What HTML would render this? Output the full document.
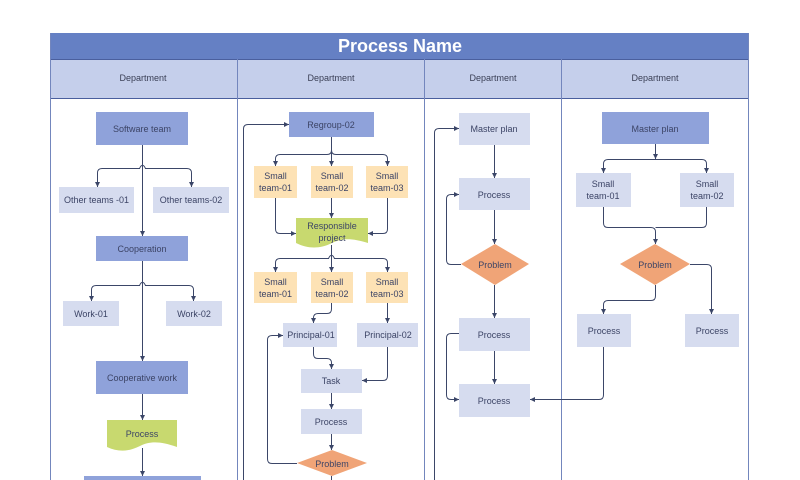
<!DOCTYPE html>
<html>
<head>
<meta charset="utf-8">
<style>
html,body{margin:0;padding:0;background:#ffffff;}
svg{display:block;}
text{font-family:"Liberation Sans",sans-serif;}
</style>
</head>
<body>
<svg width="800" height="480" viewBox="0 0 800 480" xmlns="http://www.w3.org/2000/svg">
<defs>
<marker id="a" markerWidth="6" markerHeight="6" refX="5" refY="3" orient="auto" markerUnits="userSpaceOnUse">
<path d="M0,0.5 L5,3 L0,5.5 Z" fill="#3b4668"/>
</marker>
</defs>
<rect x="0" y="0" width="800" height="480" fill="#ffffff"/>

<!-- frame -->
<rect x="50" y="33" width="699" height="26" fill="#6580c4"/>
<rect x="50" y="59" width="699" height="39" fill="#c5cfeb"/>
<text x="400" y="52" font-size="18" font-weight="bold" fill="#ffffff" text-anchor="middle">Process Name</text>
<g font-size="9" fill="#3a3f55" text-anchor="middle">
<text x="143" y="81">Department</text>
<text x="331" y="81">Department</text>
<text x="493" y="81">Department</text>
<text x="655" y="81">Department</text>
</g>
<g stroke="#4a5f9e" stroke-width="1" fill="none">
<line x1="50" y1="59.5" x2="749" y2="59.5"/>
<line x1="50" y1="98.5" x2="749" y2="98.5"/>
</g>
<g stroke="#7386bd" stroke-width="1" fill="none">
<line x1="50.5" y1="33" x2="50.5" y2="480"/>
<line x1="748.5" y1="33" x2="748.5" y2="480"/>
<line x1="237.5" y1="59" x2="237.5" y2="480"/>
<line x1="424.5" y1="59" x2="424.5" y2="480"/>
<line x1="561.5" y1="59" x2="561.5" y2="480"/>
</g>

<!-- shapes -->
<g>
<!-- col1 -->
<rect x="96" y="112" width="92" height="33" fill="#8fa2da"/>
<rect x="59" y="187" width="75" height="26" fill="#d6dcef"/>
<rect x="153" y="187" width="76" height="26" fill="#d6dcef"/>
<rect x="96" y="236" width="92" height="25" fill="#8fa2da"/>
<rect x="63" y="301" width="56" height="25" fill="#d6dcef"/>
<rect x="166" y="301" width="56" height="25" fill="#d6dcef"/>
<rect x="96" y="361" width="92" height="33" fill="#8fa2da"/>
<path d="M107,420 H177 V447 C160,441 150,441 140,446 C128,452 118,452 107,447 Z" fill="#c8d96f"/>
<rect x="84" y="476" width="117" height="10" fill="#8fa2da"/>

<!-- col2 -->
<rect x="289" y="112" width="85" height="25" fill="#8fa2da"/>
<rect x="254" y="166" width="43" height="32" fill="#fde2b5"/>
<rect x="311" y="166" width="42" height="32" fill="#fde2b5"/>
<rect x="366" y="166" width="42" height="32" fill="#fde2b5"/>
<path d="M296,218 H368 V243 C352,238 342,238 332,243 C320,249 308,249 296,243 Z" fill="#c8d96f"/>
<rect x="254" y="272" width="43" height="31" fill="#fde2b5"/>
<rect x="311" y="272" width="42" height="31" fill="#fde2b5"/>
<rect x="366" y="272" width="42" height="31" fill="#fde2b5"/>
<rect x="283" y="323" width="54" height="24" fill="#d6dcef"/>
<rect x="357" y="323" width="61" height="24" fill="#d6dcef"/>
<rect x="301" y="369" width="61" height="24" fill="#d6dcef"/>
<rect x="301" y="409" width="61" height="25" fill="#d6dcef"/>
<polygon points="297,463 332,450 367,463 332,476" fill="#f0a477"/>

<!-- col3 -->
<rect x="459" y="113" width="71" height="32" fill="#d6dcef"/>
<rect x="459" y="178" width="71" height="32" fill="#d6dcef"/>
<polygon points="461,264 495,244 529,264 495,285" fill="#f0a477"/>
<rect x="459" y="318" width="71" height="33" fill="#d6dcef"/>
<rect x="459" y="384" width="71" height="33" fill="#d6dcef"/>

<!-- col4 -->
<rect x="602" y="112" width="107" height="32" fill="#8fa2da"/>
<rect x="576" y="173" width="55" height="34" fill="#d6dcef"/>
<rect x="680" y="173" width="54" height="34" fill="#d6dcef"/>
<polygon points="620,264 655,244 690,264 655,285" fill="#f0a477"/>
<rect x="577" y="314" width="54" height="33" fill="#d6dcef"/>
<rect x="685" y="314" width="54" height="33" fill="#d6dcef"/>
</g>

<!-- connectors -->
<g stroke="#3b4668" stroke-width="1" fill="none">
<!-- col1 -->
<path d="M142.5,145 V236" marker-end="url(#a)"/>
<path d="M140,168.5 H102 Q97.5,168.5 97.5,173 V187" marker-end="url(#a)"/>
<path d="M145,168.5 H187 Q191.5,168.5 191.5,173 V187" marker-end="url(#a)"/>
<path d="M139.5,168.5 Q142.5,162 145.5,168.5"/>
<path d="M142.5,261 V361" marker-end="url(#a)"/>
<path d="M140,285.5 H96 Q91.5,285.5 91.5,290 V301" marker-end="url(#a)"/>
<path d="M145,285.5 H189 Q193.5,285.5 193.5,290 V301" marker-end="url(#a)"/>
<path d="M139.5,285.5 Q142.5,279 145.5,285.5"/>
<path d="M142.5,394 V420" marker-end="url(#a)"/>
<path d="M142.5,448 V476" marker-end="url(#a)"/>

<!-- col2 -->
<path d="M243.5,480 V129 Q243.5,124.5 248,124.5 H289" marker-end="url(#a)"/>
<path d="M331.5,137 V166" marker-end="url(#a)"/>
<path d="M331.5,150 Q331.5,154.5 327,154.5 H280 Q275.5,154.5 275.5,159 V166" marker-end="url(#a)"/>
<path d="M331.5,150 Q331.5,154.5 336,154.5 H383 Q387.5,154.5 387.5,159 V166" marker-end="url(#a)"/>
<path d="M275.5,198 V229 Q275.5,233.5 280,233.5 H296" marker-end="url(#a)"/>
<path d="M331.5,198 V218" marker-end="url(#a)"/>
<path d="M387.5,198 V229 Q387.5,233.5 383,233.5 H368" marker-end="url(#a)"/>
<path d="M331.5,245 V272" marker-end="url(#a)"/>
<path d="M329,258.5 H280 Q275.5,258.5 275.5,263 V272" marker-end="url(#a)"/>
<path d="M334,258.5 H383 Q387.5,258.5 387.5,263 V272" marker-end="url(#a)"/>
<path d="M328.5,258.5 Q331.5,252 334.5,258.5"/>
<path d="M331.5,303 V309 Q331.5,313.5 327,313.5 H318 Q313.5,313.5 313.5,318 V323" marker-end="url(#a)"/>
<path d="M387.5,303 V323" marker-end="url(#a)"/>
<path d="M313.5,347 V354 Q313.5,358.5 318,358.5 H327 Q331.5,358.5 331.5,363 V369" marker-end="url(#a)"/>
<path d="M387.5,347 V376 Q387.5,380.5 383,380.5 H362" marker-end="url(#a)"/>
<path d="M331.5,393 V409" marker-end="url(#a)"/>
<path d="M331.5,434 V450" marker-end="url(#a)"/>
<path d="M297,463.5 H272 Q267.5,463.5 267.5,459 V340 Q267.5,335.5 272,335.5 H283" marker-end="url(#a)"/>
<path d="M331.5,476 V480"/>

<!-- col3 -->
<path d="M434.5,480 V133 Q434.5,128.5 439,128.5 H459" marker-end="url(#a)"/>
<path d="M494.5,145 V178" marker-end="url(#a)"/>
<path d="M494.5,210 V244" marker-end="url(#a)"/>
<path d="M461,264.5 H451 Q446.5,264.5 446.5,260 V199 Q446.5,194.5 451,194.5 H459" marker-end="url(#a)"/>
<path d="M494.5,285 V318" marker-end="url(#a)"/>
<path d="M494.5,351 V384" marker-end="url(#a)"/>
<path d="M459,333.5 H451 Q446.5,333.5 446.5,338 V395 Q446.5,399.5 451,399.5 H459" marker-end="url(#a)"/>
<path d="M603.5,347 V395 Q603.5,399.5 599,399.5 H530" marker-end="url(#a)"/>

<!-- col4 -->
<path d="M655.5,144 V159" marker-end="url(#a)"/>
<path d="M655.5,159.5 H608 Q603.5,159.5 603.5,164 V173" marker-end="url(#a)"/>
<path d="M655.5,159.5 H702 Q706.5,159.5 706.5,164 V173" marker-end="url(#a)"/>
<path d="M603.5,207 V223 Q603.5,227.5 608,227.5 H651 Q655.5,227.5 655.5,232 V244" marker-end="url(#a)"/>
<path d="M706.5,207 V223 Q706.5,227.5 702,227.5 H655.5"/>
<path d="M690,264.5 H707 Q711.5,264.5 711.5,269 V314" marker-end="url(#a)"/>
<path d="M655.5,285 V296 Q655.5,300.5 651,300.5 H608 Q603.5,300.5 603.5,305 V314" marker-end="url(#a)"/>
</g>

<!-- labels -->
<g font-size="9" fill="#3c4466" text-anchor="middle">
<text x="142" y="132">Software team</text>
<text x="96.5" y="203">Other teams -01</text>
<text x="191" y="203">Other teams-02</text>
<text x="142" y="252">Cooperation</text>
<text x="91" y="317">Work-01</text>
<text x="194" y="317">Work-02</text>
<text x="142" y="381">Cooperative work</text>
<text x="142" y="437">Process</text>

<text x="331" y="128">Regroup-02</text>
<text x="275.5" y="179">Small</text><text x="275.5" y="191">team-01</text>
<text x="332" y="179">Small</text><text x="332" y="191">team-02</text>
<text x="387" y="179">Small</text><text x="387" y="191">team-03</text>
<text x="332" y="229">Responsible</text><text x="332" y="241">project</text>
<text x="275.5" y="285">Small</text><text x="275.5" y="297">team-01</text>
<text x="332" y="285">Small</text><text x="332" y="297">team-02</text>
<text x="387" y="285">Small</text><text x="387" y="297">team-03</text>
<text x="311" y="338">Principal-01</text>
<text x="388" y="338">Principal-02</text>
<text x="331" y="384">Task</text>
<text x="331" y="425">Process</text>
<text x="332" y="467">Problem</text>

<text x="494" y="132">Master plan</text>
<text x="494" y="198">Process</text>
<text x="495" y="268">Problem</text>
<text x="494" y="338">Process</text>
<text x="494" y="404">Process</text>

<text x="655" y="132">Master plan</text>
<text x="603" y="187">Small</text><text x="603" y="199">team-01</text>
<text x="707" y="187">Small</text><text x="707" y="199">team-02</text>
<text x="655" y="268">Problem</text>
<text x="604" y="334">Process</text>
<text x="712" y="334">Process</text>
</g>
</svg>
</body>
</html>
